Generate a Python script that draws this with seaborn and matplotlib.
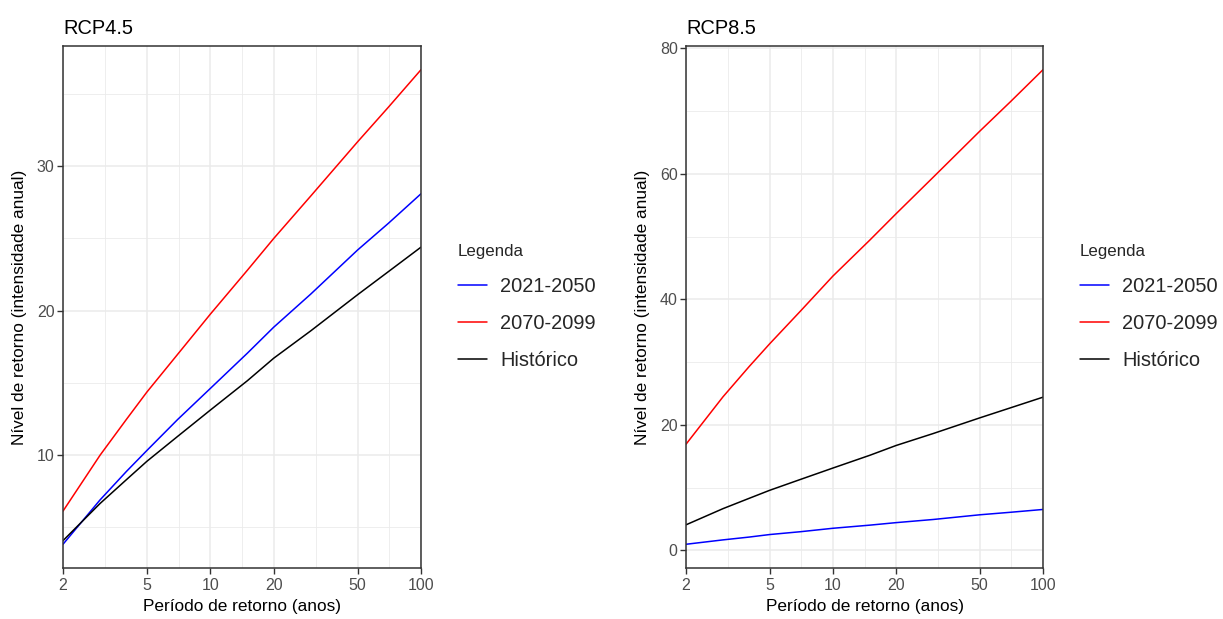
import numpy as np
import pandas as pd
import matplotlib
matplotlib.use("Agg")
import matplotlib.pyplot as plt
import seaborn as sns
from matplotlib.ticker import FixedLocator, NullFormatter

# ---- data ----
periods = [2, 3, 4, 5, 7, 10, 15, 20, 30, 50, 70, 100]
historico = [4.05, 6.63, 8.28, 9.55, 11.28, 13.1, 15.14, 16.7, 18.6, 21.1, 22.7, 24.4]
rcp45_2021_2050 = [3.8, 6.88, 8.85, 10.3, 12.45, 14.6, 17.05, 18.85, 21.15, 24.2, 26.05, 28.1]
rcp45_2070_2099 = [6.1, 9.98, 12.46, 14.35, 16.97, 19.75, 22.8, 25.0, 27.95, 31.7, 34.1, 36.7]
rcp85_2021_2050 = [0.95, 1.65, 2.1, 2.5, 2.95, 3.5, 4.0, 4.4, 4.9, 5.65, 6.05, 6.5]
rcp85_2070_2099 = [16.9, 24.46, 29.3, 32.9, 38.1, 43.7, 49.45, 53.65, 59.45, 66.8, 71.5, 76.6]

series_names = ["2021-2050", "2070-2099", "Histórico"]
panel_titles = ["RCP4.5", "RCP8.5"]
x_breaks = [2, 5, 10, 20, 50, 100]
x_minor = [np.sqrt(2 * 5), np.sqrt(5 * 10), np.sqrt(10 * 20), np.sqrt(20 * 50), np.sqrt(50 * 100)]
y_breaks = [[10, 20, 30], [0, 20, 40, 60, 80]]
y_minor = [[5, 15, 25, 35], [10, 30, 50, 70]]

xlabel = "Período de retorno (anos)"
ylabel = "Nível de retorno (intensidade anual)"
legend_title = "Legenda"
palette = {"2021-2050": "#0000FF", "2070-2099": "#FF0000", "Histórico": "#000000"}


def make_df(s1, s2):
    rows = []
    for name, vals in zip(series_names, [s1, s2, historico]):
        for p, v in zip(periods, vals):
            rows.append({"periodo": p, "nivel": v, "serie": name})
    return pd.DataFrame(rows)


dfs = [make_df(rcp45_2021_2050, rcp45_2070_2099), make_df(rcp85_2021_2050, rcp85_2070_2099)]

sns.set_theme(style="white")
plt.rcParams["font.family"] = ["Liberation Sans", "DejaVu Sans"]

W, H = 1223, 619
fig = plt.figure(figsize=(W / 100, H / 100), dpi=100)
fig.patch.set_facecolor("white")

axes_px = [(63, 46, 421, 568), (686, 46, 1043, 568)]
legend_px = [(458, 244), (1080, 244)]
ylabel_x = [20, 643]

for i, (df, (x0, y0, x1, y1)) in enumerate(zip(dfs, axes_px)):
    ax = fig.add_axes([x0 / W, 1 - y1 / H, (x1 - x0) / W, (y1 - y0) / H])
    ax.set_facecolor("white")
    sns.lineplot(data=df, x="periodo", y="nivel", hue="serie", hue_order=series_names,
                 palette=palette, linewidth=1.1, ax=ax, legend=True, estimator=None)
    ax.set_xscale("log")
    ax.set_xlim(2, 100)
    vmin, vmax = df["nivel"].min(), df["nivel"].max()
    pad = 0.05 * (vmax - vmin)
    ax.set_ylim(vmin - pad, vmax + pad)

    ax.xaxis.set_major_locator(FixedLocator(x_breaks))
    ax.set_xticks(x_breaks)
    ax.set_xticklabels([str(b) for b in x_breaks])
    ax.xaxis.set_minor_locator(FixedLocator(x_minor))
    ax.xaxis.set_minor_formatter(NullFormatter())
    ax.set_yticks(y_breaks[i])
    ax.set_yticklabels([str(b) for b in y_breaks[i]])
    ax.yaxis.set_minor_locator(FixedLocator(y_minor[i]))

    ax.grid(True, which="major", color="#EBEBEB", linewidth=1.1)
    ax.grid(True, which="minor", color="#EBEBEB", linewidth=0.6)
    ax.set_axisbelow(True)

    ax.tick_params(axis="both", which="major", length=4, width=1, color="#333333",
                   labelsize=11.5, labelcolor="#4D4D4D", pad=2, bottom=True, left=True)
    ax.tick_params(axis="x", which="major", pad=3.5)
    ax.tick_params(axis="both", which="minor", length=0)
    for sp in ax.spines.values():
        sp.set_color("#333333")
        sp.set_linewidth(1.1)

    ax.set_xlabel(xlabel, fontsize=12.4, color="black", labelpad=4)
    ax.set_ylabel("")
    fig.text(ylabel_x[i] / W, 1 - (y0 + y1) / 2 / H, ylabel, rotation=90, fontsize=12.4,
             ha="center", va="center", color="black")
    ax.set_title(panel_titles[i], loc="left", fontsize=14.4, color="black", pad=9)

    handles, labels = ax.get_legend_handles_labels()
    ax.get_legend().remove()
    lx, ly = legend_px[i]
    leg = ax.legend(handles, labels, title=legend_title, loc="upper left",
                    bbox_to_anchor=(lx / W, 1 - ly / H), bbox_transform=fig.transFigure,
                    frameon=False, fontsize=14.4, title_fontsize=12.2,
                    handlelength=1.45, handletextpad=0.65, labelspacing=0.9,
                    borderaxespad=0, borderpad=0)
    leg._legend_box.align = "left"
    for h in leg.get_lines():
        h.set_linewidth(1.1)

fig.savefig("out.png", dpi=100, facecolor="white")
